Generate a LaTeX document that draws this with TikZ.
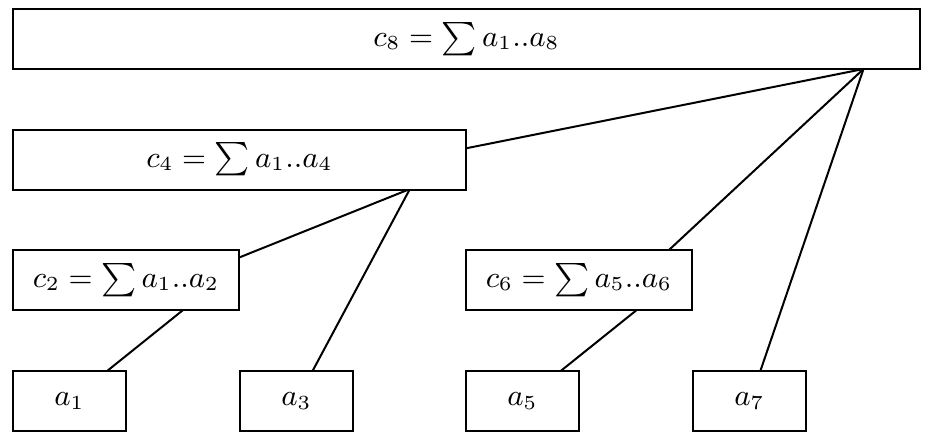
\documentclass[tikz,border=0pt]{standalone}
\usetikzlibrary{backgrounds}
\begin{document}
\begin{tikzpicture}[x=0.3pt,y=-0.3pt,
  box/.style={draw, fill=white, line width=0.6pt, inner sep=0pt, outer sep=0pt, minimum height=18pt, font=\fontsize{8.8}{10}\selectfont},
  w8/.style={minimum width=907*0.3pt},
  w4/.style={minimum width=453*0.3pt},
  w2/.style={minimum width=226*0.3pt},
  w1/.style={minimum width=113*0.3pt},
  edge/.style={line width=0.6pt}]
\useasboundingbox (0,0) rectangle (950,442);
\node[box,w8] (c8) at (466.5,39) {$c_8=\sum a_1..a_8$};
\node[box,w4] (c4) at (239.5,159.5) {$c_4=\sum a_1..a_4$};
\node[box,w2] (c2) at (126,280) {$c_2=\sum a_1..a_2$};
\node[box,w2] (c6) at (579,280) {$c_6=\sum a_5..a_6$};
\node[box,w1] (a1) at (69.5,401) {$a_1$};
\node[box,w1] (a3) at (296.5,401) {$a_3$};
\node[box,w1] (a5) at (522.5,401) {$a_5$};
\node[box,w1] (a7) at (749.5,401) {$a_7$};
% index points
\coordinate (p8) at (863.5,69);
\coordinate (p4) at (409.9,189);
\coordinate (p2) at (183.1,310);
\coordinate (p6) at (636.7,310);
\coordinate (q4) at (409.9,159.5);
\coordinate (q2) at (183.1,280);
\coordinate (q6) at (636.7,280);
\coordinate (q1) at (69.7,401);
\coordinate (q3) at (296.5,401);
\coordinate (q5) at (523.3,401);
\coordinate (q7) at (750.1,401);
\begin{scope}[on background layer]
\draw[edge] (p8) -- (q4);
\draw[edge] (p8) -- (q6);
\draw[edge] (p8) -- (q7);
\draw[edge] (p4) -- (q2);
\draw[edge] (p4) -- (q3);
\draw[edge] (p2) -- (q1);
\draw[edge] (p6) -- (q5);
\end{scope}
\end{tikzpicture}
\end{document}
